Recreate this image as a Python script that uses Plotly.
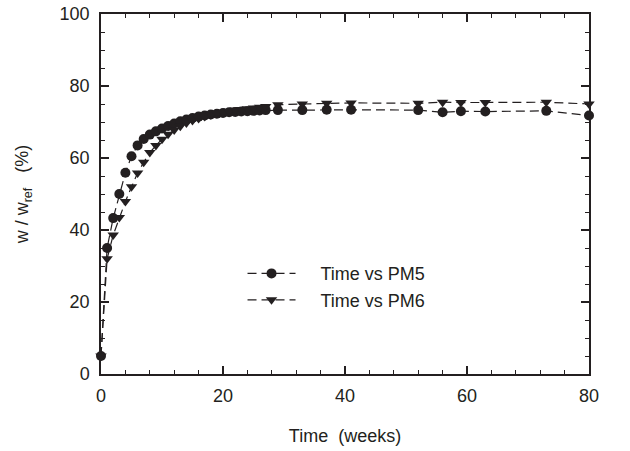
import plotly.graph_objects as go

weeks = [0, 1, 2, 3, 4, 5, 6, 7, 8, 9, 10, 11, 12, 13, 14, 15, 16, 17, 18, 19,
         20, 21, 22, 23, 24, 25, 26, 27, 29, 33, 37, 41, 52, 56, 59, 63, 73, 80]

pm5 = [5.0, 35.0, 43.3, 50.0, 55.9, 60.5, 63.5, 65.3, 66.5, 67.4, 68.2, 68.9, 69.6,
       70.2, 70.7, 71.1, 71.5, 71.8, 72.1, 72.3, 72.5, 72.7, 72.8, 72.9, 73.0, 73.1,
       73.2, 73.3, 73.3, 73.3, 73.4, 73.4, 73.3, 72.7, 73.0, 72.9, 73.1, 71.8]

pm6 = [5.0, 32.0, 38.6, 43.5, 47.9, 52.0, 55.8, 58.8, 61.5, 63.5, 65.2, 66.6, 67.8,
       68.8, 69.7, 70.4, 71.0, 71.5, 72.0, 72.4, 72.7, 73.0, 73.3, 73.5, 73.7, 73.9,
       74.1, 74.3, 74.8, 75.0, 75.2, 75.3, 75.2, 75.5, 75.4, 75.4, 75.5, 75.0]

series_names = ["Time vs PM5", "Time vs PM6"]

FONT = "Liberation Sans, Arial, sans-serif"
INK = "#231f20"
FS = 18

fig = go.Figure()
fig.add_trace(go.Scatter(
    x=weeks, y=pm5, name="&nbsp;&nbsp;&nbsp;&nbsp;" + series_names[0], mode="lines+markers",
    line=dict(color=INK, width=1.2, dash="9px,5px"),
    marker=dict(symbol="circle", size=10, color=INK),
    cliponaxis=False))
fig.add_trace(go.Scatter(
    x=weeks, y=pm6, name="&nbsp;&nbsp;&nbsp;&nbsp;" + series_names[1], mode="lines+markers",
    line=dict(color=INK, width=1.2, dash="9px,5px"),
    marker=dict(symbol="triangle-down", size=10, color=INK),
    cliponaxis=False))

axis_common = dict(
    showline=True, linecolor=INK, linewidth=1.5, mirror="ticks",
    ticks="inside", ticklen=8, tickwidth=1.5, tickcolor=INK,
    showgrid=False, zeroline=False, automargin=False,
    tickfont=dict(family=FONT, size=FS, color=INK),
)

fig.update_xaxes(
    range=[0, 80], tick0=0, dtick=20, ticklabelstandoff=5,
    minor=dict(ticks="inside", ticklen=4, tickwidth=1.2, tickcolor=INK, dtick=4, showgrid=False),
    title=dict(text="Time&nbsp;&nbsp;(weeks)", font=dict(family=FONT, size=FS, color=INK), standoff=24),
    **axis_common)
fig.update_yaxes(
    range=[0, 100], tick0=0, dtick=20, ticklabelstandoff=6,
    minor=dict(ticks="inside", ticklen=4, tickwidth=1.2, tickcolor=INK, dtick=5, showgrid=False),
    title=dict(text="w / w<sub>ref</sub>&nbsp;&nbsp;&nbsp;(%)", font=dict(family=FONT, size=FS, color=INK), standoff=26),
    **axis_common)

fig.update_layout(
    width=630, height=451,
    margin=dict(l=101, r=41, t=14, b=77),
    plot_bgcolor="white", paper_bgcolor="white",
    font=dict(family=FONT, size=FS, color=INK),
    showlegend=True,
    legend=dict(x=0.29, y=0.33, xanchor="left", yanchor="top",
                bgcolor="rgba(0,0,0,0)", itemwidth=48, tracegroupgap=0,
                font=dict(family=FONT, size=FS, color=INK)),
)

fig.write_html("out.html")
